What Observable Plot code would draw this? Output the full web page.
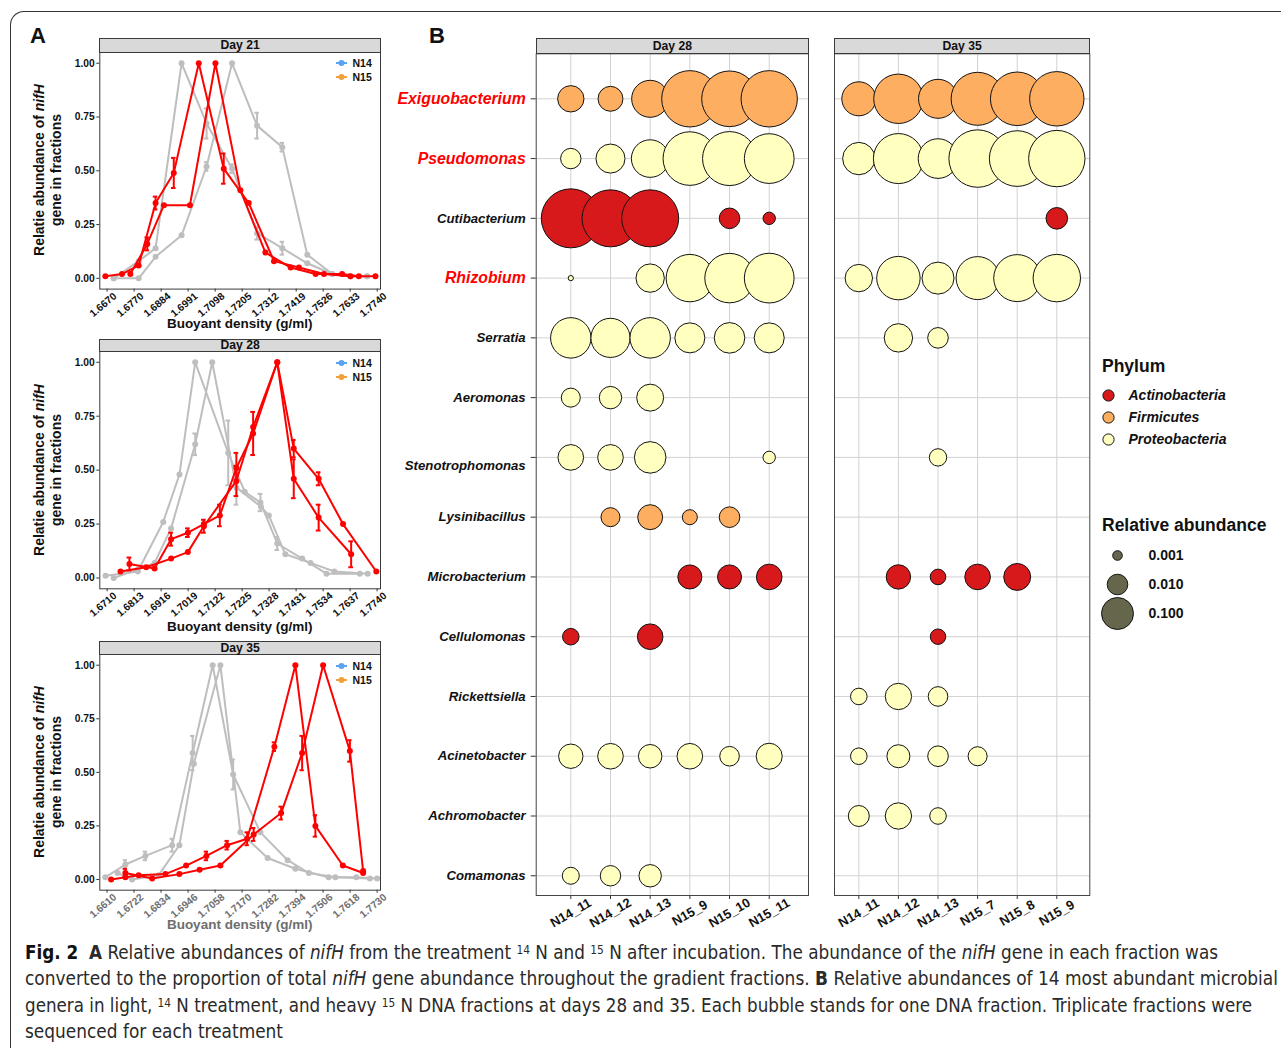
<!DOCTYPE html>
<html><head><meta charset="utf-8">
<script src="https://cdn.jsdelivr.net/npm/d3@7"></script>
<script src="https://cdn.jsdelivr.net/npm/@observablehq/plot@0.6"></script>
<style>
html,body{margin:0;padding:0;background:#fff;}
#page{position:relative;width:1281px;height:1048px;overflow:hidden;font-family:"Liberation Sans",Arial,sans-serif;color:#111;}
.strip{position:absolute;background:#d9d9d9;border:1px solid #3a3a3a;box-sizing:border-box;font-weight:bold;font-size:12.2px;text-align:center;color:#111;}
#cap{position:absolute;left:25px;top:939px;font-family:"Liberation Sans Narrow","DejaVu Sans Condensed","Roboto Condensed","Liberation Sans",sans-serif;font-size:19px;line-height:26.4px;color:#2a2a2a;}
#cap .ln{white-space:nowrap;transform-origin:0 50%;}
#cap sup{font-size:12px;vertical-align:0.45em;line-height:0;}
</style></head>
<body><div id="page"></div>
<script>
// ---------------- Panel A data: [buoyant density, relative abundance, sd] ----------------
const d21Ticks = ["1.6670","1.6770","1.6884","1.6991","1.7098","1.7205","1.7312","1.7419","1.7526","1.7633","1.7740"];
const d28Ticks = ["1.6710","1.6813","1.6916","1.7019","1.7122","1.7225","1.7328","1.7431","1.7534","1.7637","1.7740"];
const d35Ticks = ["1.6610","1.6722","1.6834","1.6946","1.7058","1.7170","1.7282","1.7394","1.7506","1.7618","1.7730"];

const d21_N14_a = [[1.6696,0.00],[1.6795,0.08],[1.6862,0.14],[1.6965,1.00],[1.7064,0.72,0.07],[1.7165,0.51,0.02],[1.7264,0.21,0.03],[1.7364,0.14,0.03],[1.7463,0.07],[1.7562,0.02],[1.7634,0.01],[1.7700,0.01]];
const d21_N14_b = [[1.6696,0.00],[1.6795,0.00],[1.6862,0.10],[1.6965,0.20],[1.7064,0.52,0.02],[1.7165,1.00],[1.7264,0.71,0.06],[1.7364,0.61,0.02],[1.7463,0.11],[1.7562,0.02],[1.7634,0.01],[1.7700,0.01]];
const d21_N15_a = [[1.6663,0.01],[1.6729,0.02],[1.6795,0.06],[1.6862,0.35,0.03],[1.6934,0.49,0.07],[1.7033,1.00],[1.7132,0.51,0.07],[1.7231,0.35],[1.7331,0.08],[1.7430,0.05],[1.7529,0.02],[1.7634,0.01],[1.7733,0.01]];
const d21_N15_b = [[1.6762,0.02],[1.6829,0.16,0.03],[1.6895,0.34],[1.6998,0.34],[1.7099,1.00],[1.7198,0.41],[1.7297,0.12],[1.7397,0.05],[1.7496,0.02],[1.7601,0.02],[1.7667,0.01]];

const d28_N14_a = [[1.6704,0.01],[1.6827,0.03],[1.6924,0.26],[1.6986,0.48],[1.7046,1.00],[1.7172,0.58,0.15],[1.7235,0.40],[1.7295,0.35,0.04],[1.7359,0.16,0.03],[1.7454,0.09],[1.7547,0.02],[1.7674,0.02]];
const d28_N14_b = [[1.6735,0.00],[1.6827,0.04],[1.6891,0.07],[1.6954,0.23],[1.7046,0.62,0.05],[1.7111,1.00],[1.7203,0.42,0.08],[1.7297,0.33],[1.7327,0.29],[1.7390,0.11],[1.7486,0.07],[1.7577,0.03],[1.7704,0.02]];
const d28_N15_a = [[1.6761,0.03],[1.6859,0.05],[1.6954,0.09],[1.7018,0.12],[1.7079,0.24,0.03],[1.7203,0.45,0.07],[1.7267,0.70],[1.7359,1.00],[1.7422,0.60,0.04],[1.7517,0.46,0.03],[1.7610,0.25],[1.7737,0.03]];
const d28_N15_b = [[1.6795,0.065,0.03],[1.6891,0.044],[1.6954,0.18,0.03],[1.7018,0.21,0.02],[1.7079,0.25],[1.7140,0.29,0.05],[1.7203,0.51,0.07],[1.7267,0.67,0.10],[1.7359,1.00],[1.7422,0.46,0.09],[1.7517,0.28,0.06],[1.7641,0.11,0.06]];

const d35_N14_a = [[1.6603,0.01],[1.6686,0.07,0.02],[1.6769,0.11,0.02],[1.6880,0.16,0.03],[1.6965,0.59,0.08],[1.7048,1.00],[1.7133,0.49,0.07],[1.7246,0.22],[1.7359,0.09],[1.7447,0.03],[1.7557,0.01],[1.7700,0.005]];
const d35_N14_b = [[1.6654,0.03],[1.6714,0.00],[1.6824,0.02],[1.6910,0.16],[1.6970,0.54],[1.7080,1.00],[1.7163,0.22],[1.7276,0.10],[1.7391,0.05],[1.7529,0.01],[1.7644,0.01],[1.7730,0.005]];
const d35_N15_a = [[1.6627,0.00],[1.6686,0.01],[1.6741,0.02],[1.6852,0.025],[1.6938,0.065],[1.7022,0.11,0.02],[1.7108,0.16,0.02],[1.7191,0.19,0.03],[1.7304,0.62,0.02],[1.7391,1.00],[1.7474,0.25,0.05],[1.7588,0.065],[1.7672,0.03]];
const d35_N15_b = [[1.6686,0.03,0.02],[1.6797,0.005],[1.6910,0.025],[1.6994,0.045],[1.7080,0.065],[1.7218,0.21,0.03],[1.7332,0.31,0.03],[1.7419,0.59,0.08],[1.7506,1.00],[1.7617,0.60,0.05],[1.7672,0.04]];

// ---------------- Panel B data ----------------
const genera = ["Exiguobacterium","Pseudomonas","Cutibacterium","Rhizobium","Serratia","Aeromonas","Stenotrophomonas","Lysinibacillus","Microbacterium","Cellulomonas","Rickettsiella","Acinetobacter","Achromobacter","Comamonas"];
const highlighted = ["Exiguobacterium","Pseudomonas","Rhizobium"];
const phyla = ["Actinobacteria","Firmicutes","Proteobacteria"];
const generaPhylum = ["Firmicutes","Proteobacteria","Actinobacteria","Proteobacteria","Proteobacteria","Proteobacteria","Proteobacteria","Firmicutes","Actinobacteria","Actinobacteria","Proteobacteria","Proteobacteria","Proteobacteria","Proteobacteria"];
const fractions28 = ["N14_11","N14_12","N14_13","N15_9","N15_10","N15_11"];
const fractions35 = ["N14_11","N14_12","N14_13","N15_7","N15_8","N15_9"];
const abund28 = [
  [0.032,0.024,0.151,0.74,0.70,0.74],
  [0.0096,0.055,0.158,0.59,0.61,0.43],
  [0.92,0.78,0.78,null,0.010,0.0018],
  [0.0004,null,0.048,0.355,0.42,0.43],
  [0.20,0.18,0.20,0.067,0.075,0.067],
  [0.0072,0.0144,0.036,null,null,null],
  [0.0275,0.0275,0.092,null,null,0.0018],
  [null,0.0072,0.024,0.0031,0.010,null],
  [null,null,null,0.020,0.020,0.0275],
  [0.0043,null,0.0275,null,null,null],
  [null,null,null,null,null,null],
  [0.0215,0.0275,0.018,0.0275,0.0081,0.030],
  [null,null,null,null,null,null],
  [0.0047,0.0096,0.0144,null,null,null]
];
const abund35 = [
  [0.118,0.418,0.178,0.562,0.589,0.631],
  [0.103,0.44,0.187,0.81,0.70,0.74],
  [null,null,null,null,null,0.0122],
  [0.0395,0.256,0.100,0.247,0.343,0.355],
  [null,0.048,0.010,null,null,null],
  [null,null,null,null,null,null],
  [null,null,0.0051,null,null,null],
  [null,null,null,null,null,null],
  [null,0.0215,0.0035,0.0275,0.036,null],
  [null,null,0.0034,null,null,null],
  [0.0043,0.032,0.0081,null,null,null],
  [0.0043,0.0162,0.010,0.0072,null,null],
  [0.0108,0.032,0.0043,null,null,null],
  [null,null,null,null,null,null]
];
const sizeBreaks = [0.001, 0.01, 0.1];
const sizeBreakLabels = ["0.001","0.010","0.100"];

// ---------------- styles ----------------
const phylumColors = ["#d7191c","#fdae61","#ffffbf"];
const sizeScale = {type: "log", domain: [0.001, 0.01, 0.1, 1], range: [4.8, 10.3, 16, 30]};
const FONT = "Liberation Sans, Arial, sans-serif";
const page = document.getElementById("page");

function put(el, left, top) {
  el.style.position = "absolute"; el.style.left = left + "px"; el.style.top = top + "px";
  page.appendChild(el); return el;
}
function txt(html, x, y, css, tr) {
  const d = document.createElement("div");
  d.innerHTML = html;
  d.style.cssText = `position:absolute;left:${x}px;top:${y}px;white-space:nowrap;transform:${tr || "translate(-50%,-50%)"};${css || ""}`;
  page.appendChild(d); return d;
}
function strip(label, left, top, width, height) {
  const d = document.createElement("div");
  d.className = "strip";
  d.style.cssText += `left:${left}px;top:${top}px;width:${width}px;height:${height}px;line-height:${height - 2}px;`;
  d.textContent = label;
  page.appendChild(d);
}

// page frame
const fr = document.createElement("div");
fr.style.cssText = "position:absolute;left:10px;top:11px;width:1400px;height:1200px;border-left:1.3px solid #333;border-top:1.3px solid #333;border-top-left-radius:14px;";
page.appendChild(fr);

// ---------------- Panel A ----------------
const A_LEFT = 20, A_FRAME_L = 99.3, A_FRAME_R = 380;
function panelA(cfg) {
  const first = +cfg.ticks[0], last = +cfg.ticks[cfg.ticks.length - 1];
  const step = (last - first) / (cfg.ticks.length - 1);
  const tickVals = cfg.ticks.map((_, k) => first + k * step);
  const rows = (arr, s) => arr.map(([x, y, e]) => ({x, y, e: e || 0, s}));
  const grey = [...rows(cfg.n14[0], "a"), ...rows(cfg.n14[1], "b")];
  const red = [...rows(cfg.n15[0], "a"), ...rows(cfg.n15[1], "b")];
  const cap = 0.0009;
  const layer = (data, color) => {
    const err = data.filter(d => d.e > 0);
    return [
      Plot.line(data, {x: "x", y: "y", z: "s", stroke: color, strokeWidth: 2}),
      Plot.ruleX(err, {x: "x", y1: d => d.y - d.e, y2: d => d.y + d.e, stroke: color, strokeWidth: 2}),
      Plot.ruleY(err, {y: d => d.y - d.e, x1: d => d.x - cap, x2: d => d.x + cap, stroke: color, strokeWidth: 2}),
      Plot.ruleY(err, {y: d => d.y + d.e, x1: d => d.x - cap, x2: d => d.x + cap, stroke: color, strokeWidth: 2}),
      Plot.dot(data, {x: "x", y: "y", r: 3, fill: color})
    ];
  };
  const mt = 20, mb = 45, mr = 12;
  const width = A_FRAME_R - A_LEFT + mr;
  const svg = Plot.plot({
    width, height: cfg.bottom - cfg.top + mt + mb,
    marginLeft: A_FRAME_L - A_LEFT, marginRight: mr, marginTop: mt, marginBottom: mb,
    x: {domain: cfg.xDomain, axis: null}, y: {domain: [-0.05, 1.05], axis: null},
    style: {fontFamily: FONT, fontSize: "10px", background: "transparent", overflow: "visible"},
    marks: [
      Plot.axisY({ticks: [0, 0.25, 0.5, 0.75, 1], tickFormat: d => d.toFixed(2), tickSize: 3, tickPadding: 2,
        fontSize: 10.3, fontWeight: "bold", fill: "#111", stroke: "#333", label: null}),
      Plot.axisX({ticks: tickVals, tickFormat: () => "", tickSize: 3, stroke: "#333", label: null}),
      Plot.text(tickVals, {x: d => d, frameAnchor: "bottom", text: (d, i) => cfg.ticks[i], rotate: -40,
        textAnchor: "end", lineAnchor: "top", dy: 2.5, dx: 5.5, fontSize: 10.3, fontWeight: "bold", fill: cfg.tickColor}),
      ...layer(grey, "#bebebe"),
      ...layer(red, "#ff0000"),
      Plot.frame({stroke: "#3a3a3a"})
    ]
  });
  put(svg, A_LEFT, cfg.top - mt);
  strip(cfg.day, A_FRAME_L, cfg.stripTop, A_FRAME_R - A_FRAME_L + 1, cfg.top - cfg.stripTop + 1);
  // y title
  txt(`<div>Relatie abundance of <i>nifH</i></div><div>gene in fractions</div>`, 48, (cfg.top + cfg.bottom) / 2,
    "font-weight:bold;font-size:14px;line-height:17px;text-align:center;color:#111;", "translate(-50%,-50%) rotate(-90deg)");
  // x title
  txt("Buoyant density (g/ml)", (A_FRAME_L + A_FRAME_R) / 2, cfg.xTitleY, `font-weight:bold;font-size:13.5px;color:${cfg.titleColor};`);
  // N14 / N15 key
  const k = document.createElementNS("http://www.w3.org/2000/svg", "svg");
  k.setAttribute("width", 50); k.setAttribute("height", 30);
  k.innerHTML = `<g font-family="${FONT}" font-weight="bold" font-size="10.5" fill="#111">
    <line x1="0" x2="11" y1="6" y2="6" stroke="#5aa2f2" stroke-width="2"/><circle cx="5.5" cy="6" r="3" fill="#5aa2f2"/>
    <text x="16.5" y="9.7">N14</text>
    <line x1="0" x2="11" y1="20" y2="20" stroke="#f2a03d" stroke-width="2"/><circle cx="5.5" cy="20" r="3" fill="#f2a03d"/>
    <text x="16.5" y="23.7">N15</text></g>`;
  put(k, 336, cfg.top + 5.5);
}

panelA({day: "Day 21", ticks: d21Ticks, n14: [d21_N14_a, d21_N14_b], n15: [d21_N15_a, d21_N15_b],
  top: 51.7, bottom: 288.3, stripTop: 38, xDomain: [1.6641, 1.7753], xTitleY: 322.5, tickColor: "#111", titleColor: "#111"});
panelA({day: "Day 28", ticks: d28Ticks, n14: [d28_N14_a, d28_N14_b], n15: [d28_N15_a, d28_N15_b],
  top: 351, bottom: 588.3, stripTop: 338.5, xDomain: [1.6682, 1.7753], xTitleY: 625.5, tickColor: "#111", titleColor: "#111"});
panelA({day: "Day 35", ticks: d35Ticks, n14: [d35_N14_a, d35_N14_b], n15: [d35_N15_a, d35_N15_b],
  top: 654.3, bottom: 890, stripTop: 640.5, xDomain: [1.6580, 1.7744], xTitleY: 923.5, tickColor: "#6e6e6e", titleColor: "#6e6e6e"});

// ---------------- Panel B ----------------
const B_TOP = 45, B_FRAME_TOP = 53.3, B_FRAME_BOTTOM = 895;
function panelB(cfg) {
  const data = [];
  cfg.fractions.forEach((f, j) => genera.forEach((g, i) => {
    const v = cfg.abund[i][j];
    if (v != null) data.push({i, j, v, phylum: generaPhylum[i]});
  }));
  const rowsIdx = genera.map((_, i) => i), cols = cfg.fractions.map((_, j) => j);
  const mt = B_FRAME_TOP - B_TOP, mb = 50;
  const hiIdx = rowsIdx.filter(i => highlighted.includes(genera[i]));
  const stenoIdx = rowsIdx.filter(i => genera[i] === "Stenotrophomonas");
  const normIdx = rowsIdx.filter(i => !hiIdx.includes(i) && !stenoIdx.includes(i));
  const yAxes = cfg.yLabels ? [
    Plot.axisY({ticks: rowsIdx, tickFormat: () => "", tickSize: 5, stroke: "#333", label: null}),
    Plot.axisY({ticks: hiIdx, tickFormat: i => genera[i], tickSize: 0, tickPadding: 10.5, fontSize: 15.8, fontStyle: "italic", fontWeight: "bold", fill: "#ff0000", label: null}),
    Plot.axisY({ticks: normIdx, tickFormat: i => genera[i], tickSize: 0, tickPadding: 10.5, fontSize: 13.2, fontStyle: "italic", fontWeight: "bold", fill: "#111", label: null}),
    Plot.axisY({ticks: stenoIdx, tickFormat: i => genera[i], tickSize: 0, tickPadding: 10.5, dy: 8, fontSize: 13.2, fontStyle: "italic", fontWeight: "bold", fill: "#111", label: null})
  ] : [];
  const svg = Plot.plot({
    width: cfg.width, height: B_FRAME_BOTTOM - B_TOP + mb,
    marginTop: mt, marginBottom: mb, marginLeft: cfg.ml, marginRight: cfg.mr,
    x: {domain: cfg.xDomain, axis: null}, y: {domain: [13.33, -0.753], axis: null},
    color: {domain: phyla, range: phylumColors},
    r: sizeScale,
    style: {fontFamily: FONT, fontSize: "10px", background: "transparent", overflow: "visible"},
    marks: [
      Plot.gridX({ticks: cols, stroke: "#d2d2d2", strokeOpacity: 1, strokeWidth: 1}),
      Plot.gridY({ticks: rowsIdx, stroke: "#d2d2d2", strokeOpacity: 1, strokeWidth: 1}),
      Plot.axisX({ticks: cols, tickFormat: () => "", tickSize: 4, stroke: "#333", label: null}),
      Plot.text(cols, {x: d => d, frameAnchor: "bottom", text: j => cfg.fractions[j], rotate: -30,
        textAnchor: "middle", lineAnchor: "middle", dy: 17.5, fontSize: 13, fontWeight: "bold", fill: "#111"}),
      ...yAxes,
      Plot.dot(data, {x: "j", y: "i", r: "v", fill: "phylum", stroke: "#111", strokeWidth: 1, sort: null}),
      Plot.frame({stroke: "#444"})
    ]
  });
  put(svg, cfg.left, B_TOP);
  strip(cfg.day, cfg.left + cfg.ml, 37.5, cfg.width - cfg.ml - cfg.mr + 1, B_FRAME_TOP - 37.5 + 1);
}
panelB({day: "Day 28", fractions: fractions28, abund: abund28, left: 390, ml: 145.7, mr: 2, width: 420, xDomain: [-0.872, 5.99], yLabels: true});
panelB({day: "Day 35", fractions: fractions35, abund: abund35, left: 824, ml: 10, mr: 3, width: 268.3, xDomain: [-0.614, 5.833], yLabels: false});

// ---------------- Legends ----------------
txt("Phylum", 1102, 366, "font-weight:bold;font-size:17.5px;color:#111;", "translate(0,-50%)");
const phyLeg = Plot.plot({
  width: 185, height: 75, marginLeft: 13, marginRight: 0, marginTop: 0, marginBottom: 0,
  x: {domain: [0, 1], axis: null}, y: {type: "point", domain: phyla, range: [15, 59.3], padding: 0, axis: null},
  color: {domain: phyla, range: phylumColors},
  style: {fontFamily: FONT, background: "transparent", overflow: "visible"},
  marks: [
    Plot.dot(phyla, {x: () => 0, y: d => d, fill: d => d, r: 5.6, stroke: "#111", strokeWidth: 1}),
    Plot.text(phyla, {x: () => 0, y: d => d, text: d => d, dx: 20, textAnchor: "start", fontSize: 14, fontStyle: "italic", fontWeight: "bold", fill: "#111"})
  ]
});
put(phyLeg, 1095, 380);

txt("Relative abundance", 1102, 525, "font-weight:bold;font-size:17.5px;color:#111;", "translate(0,-50%)");
const sizeLeg = Plot.plot({
  width: 185, height: 100, marginLeft: 22, marginRight: 0, marginTop: 0, marginBottom: 0,
  x: {domain: [0, 1], axis: null}, y: {type: "point", domain: sizeBreaks, range: [19, 78.3], padding: 0, axis: null},
  r: sizeScale,
  style: {fontFamily: FONT, background: "transparent", overflow: "visible"},
  marks: [
    Plot.dot(sizeBreaks, {x: () => 0, y: d => d, r: d => d, fill: "#66664d", stroke: "#111", strokeWidth: 1, sort: null}),
    Plot.text(sizeBreaks, {x: () => 0, y: d => d, text: (d, i) => sizeBreakLabels[i], dx: 31, textAnchor: "start", fontSize: 14, fontWeight: "bold", fill: "#111"})
  ]
});
put(sizeLeg, 1095, 535);

// panel letters
txt("A", 38, 36, "font-weight:bold;font-size:22px;color:#111;");
txt("B", 437, 36, "font-weight:bold;font-size:22px;color:#111;");

// ---------------- Caption ----------------
const cap = document.createElement("div");
cap.id = "cap";
cap.innerHTML = `
<div class="ln" data-w="1193"><b style="color:#111">Fig. 2</b>&nbsp; <b>A</b> Relative abundances of <i>nifH</i> from the treatment <sup>14</sup> N and <sup>15</sup> N after incubation. The abundance of the <i>nifH</i> gene in each fraction was</div>
<div class="ln" data-w="1253">converted to the proportion of total <i>nifH</i> gene abundance throughout the gradient fractions. <b>B</b> Relative abundances of 14 most abundant microbial</div>
<div class="ln" data-w="1227">genera in light, <sup>14</sup> N treatment, and heavy <sup>15</sup> N DNA fractions at days 28 and 35. Each bubble stands for one DNA fraction. Triplicate fractions were</div>
<div class="ln" data-w="258">sequenced for each treatment</div>`;
page.appendChild(cap);
cap.querySelectorAll(".ln").forEach(ln => {
  ln.style.display = "inline-block";
  const w = ln.getBoundingClientRect().width;
  ln.style.display = "block";
  ln.style.transform = `scaleX(${(+ln.dataset.w) / w})`;
});
</script>
</body></html>
